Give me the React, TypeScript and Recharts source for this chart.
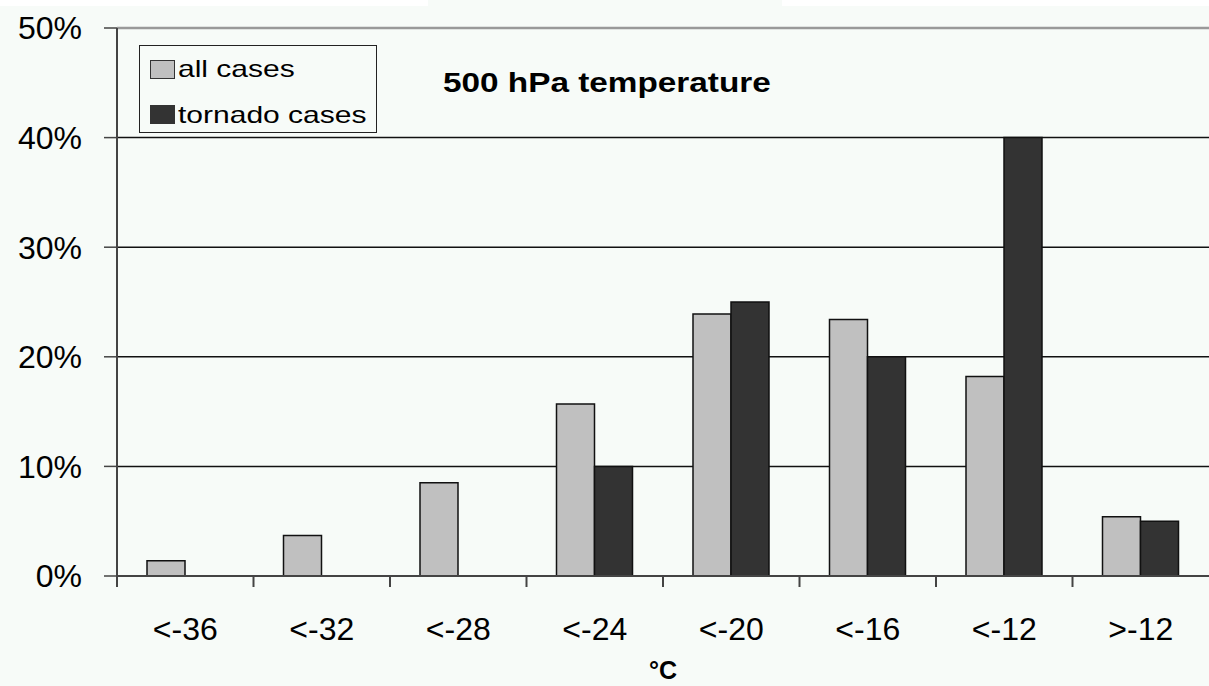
import React from 'react'
import { Bar, BarChart, CartesianGrid, ReferenceLine, XAxis, YAxis } from 'recharts'

// bins of 500 hPa temperature
const categories = ['<-36', '<-32', '<-28', '<-24', '<-20', '<-16', '<-12', '>-12']
const allCases = [1.4, 3.7, 8.5, 15.7, 23.9, 23.4, 18.2, 5.4]
const tornadoCases = [0, 0, 0, 10, 25, 20, 40, 5]
const yTicks = [0, 10, 20, 30, 40, 50]

const data = categories.map((cat, i) => ({ cat, all: allCases[i], tornado: tornadoCases[i] }))

const W = 1209
const H = 686
const LEFT = 117
const TOP = 28
const XH = 110
const PLOT_BOTTOM = H - XH
const BAND = (W - LEFT) / categories.length
const FONT = '"Liberation Sans", Arial, Helvetica, sans-serif'
const BG = '#F7FBF8'

const XTick = (props: any) => {
  const { x, payload } = props
  const bx = x - BAND / 2
  return (
    <g>
      <line x1={bx} y1={PLOT_BOTTOM} x2={bx} y2={PLOT_BOTTOM + 11} stroke="#444" strokeWidth={2} />
      <text x={x} y={PLOT_BOTTOM + 64} textAnchor="middle" fontSize={32} fontFamily={FONT} fill="#000">
        {payload.value}
      </text>
    </g>
  )
}

const swatch = (top: number, color: string): React.CSSProperties => ({
  position: 'absolute', left: 10, top, width: 23, height: 17, background: color, border: '1px solid #333',
})

const legendText = (top: number): React.CSSProperties => ({
  position: 'absolute', left: 38, top, fontSize: 24, lineHeight: '24px', whiteSpace: 'nowrap',
  transform: 'scaleX(1.25)', transformOrigin: 'left center',
})

export default function App() {
  return (
    <div style={{ position: 'absolute', left: 0, top: 0, width: W, height: H, background: BG, fontFamily: FONT, overflow: 'hidden' }}>
      <div style={{ position: 'absolute', left: 0, top: 0, width: 428, height: 6, background: '#fff' }} />
      <div style={{ position: 'absolute', left: 782, top: 0, width: W - 782, height: 6, background: '#fff' }} />
      <BarChart width={W} height={H} data={data} margin={{ top: TOP, right: 0, left: 0, bottom: 0 }} barGap={0} barSize={38}>
        <CartesianGrid vertical={false} stroke="#111" strokeWidth={1.5} />
        <XAxis dataKey="cat" height={XH} interval={0} tickLine={false} axisLine={{ stroke: '#444', strokeWidth: 2 }} tick={<XTick />} />
        <YAxis
          width={LEFT}
          domain={[0, 50]}
          ticks={yTicks}
          tickFormatter={(v: number) => v + '%'}
          tickSize={13}
          tickMargin={22}
          axisLine={{ stroke: '#444', strokeWidth: 2 }}
          tickLine={{ stroke: '#444', strokeWidth: 1.5 }}
          tick={{ fontSize: 32, fill: '#000', fontFamily: FONT }}
        />
        <ReferenceLine y={50} stroke="#999" strokeWidth={2.5} />
        <Bar dataKey="all" fill="#C0C0C0" stroke="#111" strokeWidth={1.5} isAnimationActive={false} />
        <Bar dataKey="tornado" fill="#333333" stroke="#111" strokeWidth={1.5} isAnimationActive={false} />
      </BarChart>
      <div style={{ position: 'absolute', left: 443, top: 69, fontSize: 28, lineHeight: '28px', fontWeight: 'bold', whiteSpace: 'nowrap', transform: 'scaleX(1.19)', transformOrigin: 'left center' }}>
        500 hPa temperature
      </div>
      <div style={{ position: 'absolute', left: 139, top: 45, width: 236, height: 86, border: '1.5px solid #222', background: BG }}>
        <div style={swatch(14, '#C0C0C0')} />
        <div style={legendText(11)}>all cases</div>
        <div style={swatch(59, '#333333')} />
        <div style={legendText(57)}>tornado cases</div>
      </div>
      <div style={{ position: 'absolute', left: LEFT, width: W - LEFT, top: 658, fontSize: 25, lineHeight: '25px', fontWeight: 'bold', textAlign: 'center' }}>
        °C
      </div>
    </div>
  )
}
